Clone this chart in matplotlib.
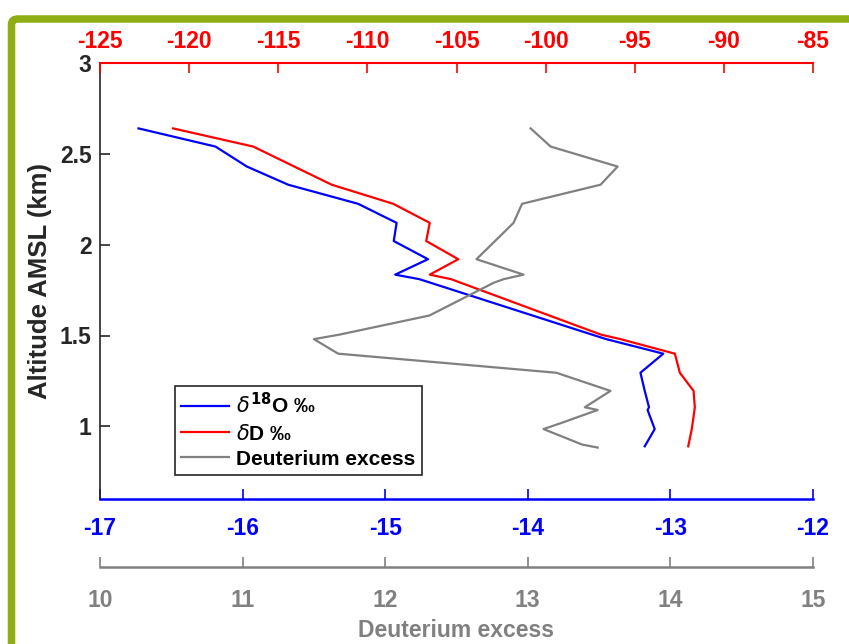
import matplotlib
matplotlib.use("Agg")
import matplotlib.pyplot as plt
from matplotlib.patches import FancyBboxPatch

plt.rcParams["font.family"] = ["Liberation Sans", "DejaVu Sans"]
plt.rcParams["mathtext.fontset"] = "dejavusans"

# ---------------------------------------------------------------------------
# Data
# ---------------------------------------------------------------------------
alt = [2.64, 2.54, 2.43, 2.33, 2.225, 2.12, 2.02, 1.92, 1.835, 1.81,
       1.505, 1.48, 1.40, 1.295, 1.195, 1.105, 1.09, 0.985, 0.89]
d18o = [-16.73, -16.19, -15.97, -15.68, -15.19, -14.92, -14.94, -14.70,
        -14.93, -14.76, -13.55, -13.45, -13.05, -13.21, -13.18, -13.15,
        -13.16, -13.11, -13.18]
dD = [-120.9, -116.4, -114.1, -112.0, -108.55, -106.5, -106.7, -104.9,
      -106.5, -105.3, -96.9, -95.8, -92.75, -92.47, -91.7, -91.63,
      -91.65, -91.8, -92.0]

alt_dex = [2.64, 2.54, 2.43, 2.33, 2.225, 2.12, 2.02, 1.92, 1.835, 1.81,
           1.79, 1.61, 1.505, 1.48, 1.40, 1.295, 1.195, 1.105, 1.09, 1.017,
           0.985, 0.90, 0.883]
dex = [13.02, 13.16, 13.63, 13.51, 12.96, 12.90, 12.77, 12.64, 12.97, 12.83,
       12.76, 12.31, 11.68, 11.50, 11.67, 13.20, 13.58, 13.40, 13.49, 13.23,
       13.11, 13.38, 13.49]

o18_ticks = [-17, -16, -15, -14, -13, -12]
dD_ticks = [-125, -120, -115, -110, -105, -100, -95, -90, -85]
dex_ticks = [10, 11, 12, 13, 14, 15]
alt_ticks = [1, 1.5, 2, 2.5, 3]

BLUE = "#0000FF"
RED = "#FF0000"
GREY = "#808080"
DARK = "#262626"
GREEN = "#8FAE14"
TICK_FS = 16.5
LW = 1.6

# ---------------------------------------------------------------------------
# Canvas
# ---------------------------------------------------------------------------
W, H = 849, 644
fig = plt.figure(figsize=(W / 100, H / 100), dpi=100)
fig.patch.set_facecolor("white")

# green frame (only left and top edges fall inside the picture)
frame = FancyBboxPatch((11.5 / W, -0.2), 1.2, 1.2 - 19 / H,
                       boxstyle="round,pad=0,rounding_size=0.008",
                       transform=fig.transFigure, facecolor="none",
                       edgecolor=GREEN, linewidth=5.4, zorder=0)
fig.add_artist(frame)

left, right, top, bottom = 100 / W, 813 / W, 1 - 63 / H, 1 - 499 / H
ax = fig.add_axes([left, bottom, right - left, top - bottom])

# delta 18O on the bottom blue axis
l1, = ax.plot(d18o, alt, color=BLUE, lw=LW, label=r"$\delta^{\mathbf{18}}$O ‰")
ax.set_xlim(-17, -12)
ax.set_ylim(0.6, 3)
ax.set_xticks(o18_ticks)
ax.set_xticklabels([str(t) for t in o18_ticks])
ax.set_yticks(alt_ticks)
ax.set_yticklabels(["1", "1.5", "2", "2.5", "3"])
ax.tick_params(axis="x", direction="in", colors=BLUE, length=7, width=1.2,
               labelsize=TICK_FS, pad=13)
ax.tick_params(axis="y", direction="in", colors=DARK, length=7, width=1.2,
               labelsize=TICK_FS, pad=6)
ax.spines["bottom"].set_color(BLUE)
ax.spines["bottom"].set_linewidth(1.8)
ax.spines["left"].set_color(DARK)
ax.spines["left"].set_linewidth(1.2)
ax.spines["right"].set_visible(False)
ax.spines["top"].set_visible(False)
for t in ax.get_xticklabels() + ax.get_yticklabels():
    t.set_fontweight("bold")
ax.set_ylabel("Altitude AMSL (km)", fontsize=18.5, fontweight="bold",
              color=DARK, labelpad=6)

# delta D on the top red axis
ax2 = ax.twiny()
l2, = ax2.plot(dD, alt, color=RED, lw=LW, label=r"$\delta$D ‰")
ax2.set_xlim(-125, -85)
ax2.set_xticks(dD_ticks)
ax2.set_xticklabels([str(t) for t in dD_ticks])
ax2.tick_params(axis="x", direction="in", colors=RED, length=7, width=1.2,
                labelsize=TICK_FS, pad=7)
ax2.spines["top"].set_color(RED)
ax2.spines["top"].set_linewidth(1.5)
for s in ["bottom", "left", "right"]:
    ax2.spines[s].set_visible(False)
for t in ax2.get_xticklabels():
    t.set_fontweight("bold")

# deuterium excess on a detached grey axis below
ax3 = ax.twiny()
l3, = ax3.plot(dex, alt_dex, color=GREY, lw=LW, label="Deuterium excess")
ax3.set_xlim(10, 15)
ax3.xaxis.set_ticks_position("bottom")
ax3.xaxis.set_label_position("bottom")
ax3.spines["bottom"].set_position(("outward", 68 * 0.72))
ax3.spines["bottom"].set_color(GREY)
ax3.spines["bottom"].set_linewidth(1.8)
for s in ["top", "left", "right"]:
    ax3.spines[s].set_visible(False)
ax3.set_xticks(dex_ticks)
ax3.set_xticklabels([str(t) for t in dex_ticks])
ax3.tick_params(axis="x", direction="in", colors=GREY, length=7, width=1.2,
                labelsize=TICK_FS, pad=16)
for t in ax3.get_xticklabels():
    t.set_fontweight("bold")
ax3.set_xlabel("Deuterium excess", fontsize=16.5, fontweight="bold",
               color=GREY, labelpad=5)

leg = ax3.legend(handles=[l1, l2, l3], loc="lower left",
                 bbox_to_anchor=(0.105, 0.055), borderaxespad=0,
                 fancybox=False, framealpha=1, edgecolor=DARK,
                 handlelength=2.3, handletextpad=0.35, labelspacing=0.3,
                 borderpad=0.3,
                 prop={"size": 15, "weight": "bold"})
leg.get_frame().set_linewidth(1.2)

fig.savefig("out.png", dpi=100, facecolor="white")
